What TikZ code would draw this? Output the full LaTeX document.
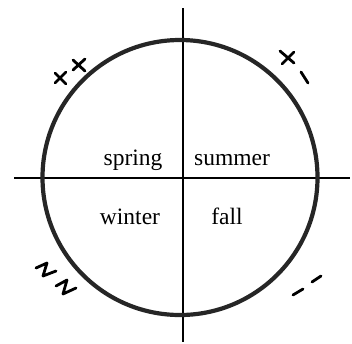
\documentclass[tikz,border=0pt]{standalone}
\usepackage{fontspec}
\setmainfont{Liberation Serif}
\begin{document}
\begin{tikzpicture}[x=1pt,y=-1pt,
  axis/.style={line width=1.8pt, black},
  ring/.style={line width=4.2pt, black!85},
  signmark/.style={line width=2.8pt, black, line cap=round, line join=round},
  season/.style={font=\fontsize{23.5}{25}\selectfont, anchor=base, inner sep=0pt}]
\useasboundingbox (0,0) rectangle (352,343);
% axes
\draw[axis] (14,178) -- (350,178);
\draw[axis] (183,8) -- (183,342);
% circle
\draw[ring] (180,177.5) circle[radius=137.5];
% season labels
\node[season] (spring) at (133,165) {spring};
\node[season] (summer) at (232,165) {summer};
\node[season] (winter) at (130,224) {winter};
\node[season] (fall)   at (227,224) {fall};
% ++ (upper left)
\draw[signmark] (55,73) -- (66,84) (66,72) -- (55,83);
\draw[signmark] (73,60) -- (85,71) (85,59) -- (73,70);
% +- (upper right)
\draw[signmark] (280,51) -- (294,63) (294,52) -- (282,64);
\draw[signmark] (301,72) -- (308,83);
% ZZ (lower left)
\draw[signmark] (36,268) -- (47,263) -- (43,276) -- (56,271);
\draw[signmark] (56,286) -- (67,280) -- (63,294) -- (76,288);
% -- (lower right)
\draw[signmark] (293,295) -- (303,289);
\draw[signmark] (312,282) -- (321,276);
\end{tikzpicture}
\end{document}
